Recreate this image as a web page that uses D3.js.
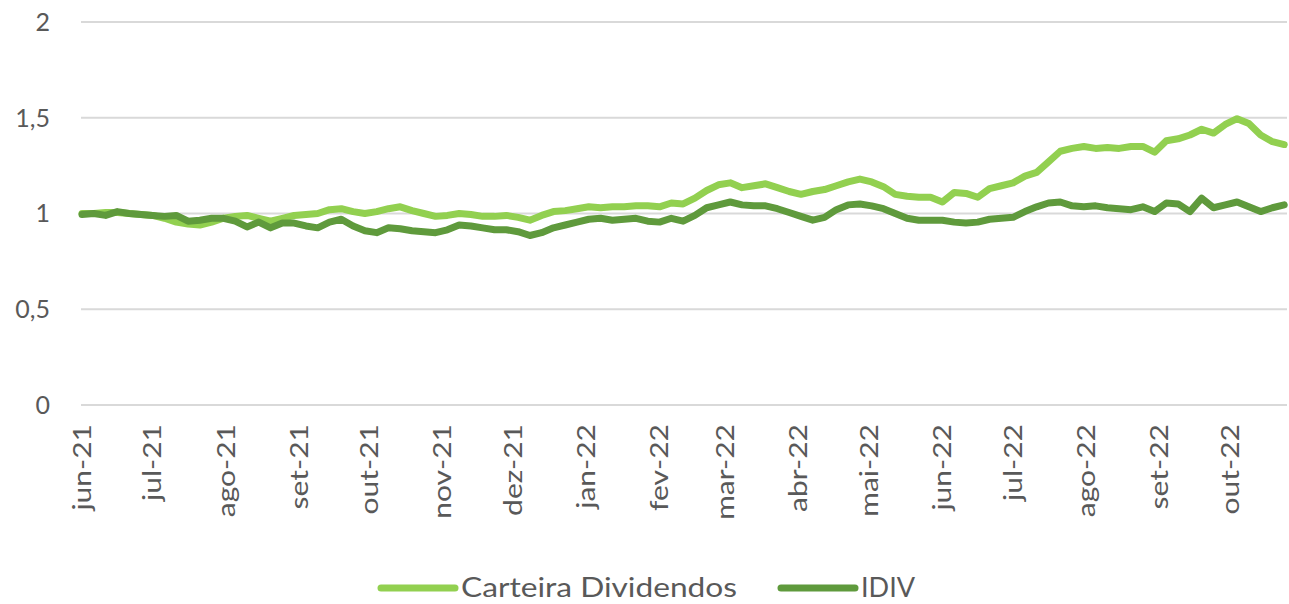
<!DOCTYPE html>
<html>
<head>
<meta charset="utf-8">
<script src="https://cdn.jsdelivr.net/npm/d3@7"></script>
<style>
  html, body { margin: 0; padding: 0; background: #fff; }
  svg text { font-family: "Lato", "Open Sans", sans-serif; fill: #595959; }
</style>
</head>
<body>
<svg id="chart" width="1289" height="604"></svg>
<script>
// Observation dates: every 5 days starting 2021-06-01
const startDate = "2021-06-01";
const stepDays = 5;

const carteira = [
  1.00, 1.00, 1.005, 1.005, 1.0, 0.995, 0.99, 0.975, 0.955, 0.945,
  0.94, 0.955, 0.975, 0.985, 0.99, 0.975, 0.96, 0.975, 0.99, 0.995,
  1.0, 1.02, 1.025, 1.01, 1.0, 1.01, 1.025, 1.035, 1.015, 1.0,
  0.985, 0.99, 1.0, 0.995, 0.985, 0.985, 0.99, 0.98, 0.965, 0.99,
  1.01, 1.015, 1.025, 1.035, 1.03, 1.035, 1.035, 1.04, 1.04, 1.035,
  1.055, 1.05, 1.08, 1.12, 1.15, 1.16, 1.135, 1.145, 1.155, 1.135,
  1.115, 1.10, 1.115, 1.125, 1.145, 1.165, 1.18, 1.165, 1.14, 1.10,
  1.09, 1.085, 1.085, 1.06, 1.11, 1.105, 1.085, 1.13, 1.145, 1.16,
  1.195, 1.215, 1.27, 1.325, 1.34, 1.35, 1.34, 1.345, 1.34, 1.35,
  1.35, 1.32, 1.38, 1.39, 1.41, 1.44, 1.42, 1.465, 1.495, 1.47,
  1.41, 1.375, 1.36
];

const idiv = [
  0.995, 1.0, 0.99, 1.01, 1.0, 0.995, 0.99, 0.985, 0.99, 0.96,
  0.965, 0.975, 0.975, 0.96, 0.93, 0.955, 0.925, 0.95, 0.95, 0.935,
  0.925, 0.955, 0.97, 0.935, 0.91, 0.90, 0.925, 0.92, 0.91, 0.905,
  0.90, 0.915, 0.94, 0.935, 0.925, 0.915, 0.915, 0.905, 0.885, 0.90,
  0.925, 0.94, 0.955, 0.97, 0.975, 0.965, 0.97, 0.975, 0.96, 0.955,
  0.975, 0.96, 0.99, 1.03, 1.045, 1.06, 1.045, 1.04, 1.04, 1.025,
  1.005, 0.985, 0.965, 0.98, 1.02, 1.045, 1.05, 1.04, 1.025, 1.0,
  0.975, 0.965, 0.965, 0.965, 0.955, 0.95, 0.955, 0.97, 0.975, 0.98,
  1.01, 1.035, 1.055, 1.06, 1.04, 1.035, 1.04, 1.03, 1.025, 1.02,
  1.035, 1.01, 1.055, 1.05, 1.01, 1.08, 1.03, 1.045, 1.06, 1.035,
  1.01, 1.03, 1.045
];

const seriesNames = ["Carteira Dividendos", "IDIV"];
const seriesColors = ["#92D050", "#5F9A3C"];
const yTicks = [0, 0.5, 1, 1.5, 2];
const monthLabels = ["jun-21","jul-21","ago-21","set-21","out-21","nov-21","dez-21",
  "jan-22","fev-22","mar-22","abr-22","mai-22","jun-22","jul-22","ago-22","set-22","out-22"];

// ---- build
const parse = d3.utcParse("%Y-%m-%d");
const t0 = parse(startDate);
const dates = carteira.map((_, i) => d3.utcDay.offset(t0, i * stepDays));
const monthTicks = monthLabels.map((_, i) => d3.utcMonth.offset(t0, i));

const svg = d3.select("#chart");
const x = d3.scaleUtc()
  .domain([t0, monthTicks[monthTicks.length - 1]])
  .range([82, 1230]);
const y = d3.scaleLinear().domain([0, 2]).range([405, 22]);

const plotLeft = 81, plotRight = 1287;

// gridlines
svg.append("g").selectAll("line").data(yTicks).join("line")
  .attr("x1", plotLeft).attr("x2", plotRight)
  .attr("y1", d => y(d)).attr("y2", d => y(d))
  .attr("stroke", "#D9D9D9").attr("stroke-width", 2);

// y axis labels
const fmt = d => String(d).replace(".", ",");
svg.append("g").selectAll("text").data(yTicks).join("text")
  .attr("x", 50).attr("y", d => y(d))
  .attr("dy", "0.35em")
  .attr("text-anchor", "end")
  .attr("font-size", 25)
  .text(fmt);

// x axis labels (rotated, slightly stretched along the text direction)
svg.append("g").selectAll("text").data(monthTicks).join("text")
  .attr("transform", d => `translate(${x(d)},${424}) rotate(-90) scale(1.2,1)`)
  .attr("dy", "0.35em")
  .attr("text-anchor", "end")
  .attr("font-size", 25)
  .text((d, i) => monthLabels[i]);

// lines
const lineGen = vals => d3.line()
  .x((d, i) => x(dates[i]))
  .y(d => y(d))
  .curve(d3.curveLinear)(vals);

[carteira, idiv].forEach((vals, k) => {
  svg.append("path")
    .attr("d", lineGen(vals))
    .attr("fill", "none")
    .attr("stroke", seriesColors[k])
    .attr("stroke-width", 7)
    .attr("stroke-linejoin", "round")
    .attr("stroke-linecap", "round");
});

// legend
const legendItems = [{x: 378, w: 276}, {x: 778, w: 54}];
legendItems.forEach((it, k) => {
  svg.append("line")
    .attr("x1", it.x + 3).attr("x2", it.x + 77)
    .attr("y1", 588).attr("y2", 588)
    .attr("stroke", seriesColors[k]).attr("stroke-width", 7)
    .attr("stroke-linecap", "round");
  svg.append("text")
    .attr("x", it.x + 83).attr("y", 588)
    .attr("dy", "0.35em")
    .attr("font-size", 26)
    .attr("textLength", it.w)
    .attr("lengthAdjust", "spacingAndGlyphs")
    .text(seriesNames[k]);
});
</script>
</body>
</html>
